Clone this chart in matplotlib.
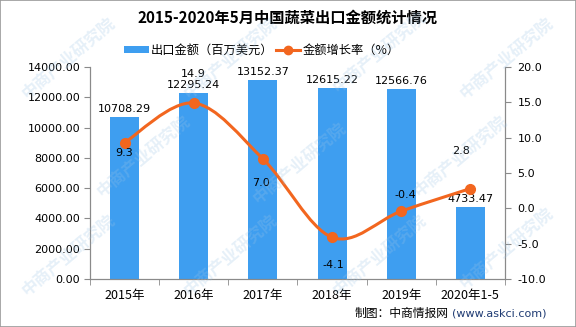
import numpy as np
import matplotlib.pyplot as plt
from matplotlib.path import Path
from matplotlib.patches import PathPatch, Patch, Rectangle
from matplotlib.lines import Line2D

plt.rcParams['font.family'] = ['Noto Sans CJK SC', 'DejaVu Sans']

# 数据
years = ['2015年', '2016年', '2017年', '2018年', '2019年', '2020年1-5']
export_value = [10708.29, 12295.24, 13152.37, 12615.22, 12566.76, 4733.47]
growth_rate = [9.3, 14.9, 7.0, -4.1, -0.4, 2.8]
left_ticks = [0, 2000, 4000, 6000, 8000, 10000, 12000, 14000]
right_ticks = [-10, -5, 0, 5, 10, 15, 20]

bar_color = '#3e9ef0'
line_color = '#f2661f'
axis_color = '#8a8a8a'

fig = plt.figure(figsize=(5.76, 3.27), dpi=100)
fig.patches.append(Rectangle((0, 0), 1, 1, transform=fig.transFigure,
                             fill=False, edgecolor='#9a9a9a', linewidth=1.2))

ax = fig.add_axes([90 / 576, 1 - 279 / 327, 415 / 576, 212 / 327])
x = np.arange(len(years))
ax.bar(x, export_value, width=0.42, color=bar_color, zorder=2)
ax.set_xlim(-0.5, len(years) - 0.5)
ax.set_ylim(0, 14000)
ax.set_yticks(left_ticks)
ax.set_yticklabels([f'{v:.2f}' for v in left_ticks], fontsize=8, family='DejaVu Sans')
ax.set_xticks(x)
ax.set_xticklabels(years, fontsize=9)
ax.tick_params(axis='x', which='major', length=0, pad=7)
ax.set_xticks(np.arange(-0.5, len(years), 1), minor=True)
ax.tick_params(axis='x', which='minor', length=4, color=axis_color)
ax.tick_params(axis='y', length=4, color=axis_color, pad=3)
for s in ['left', 'right', 'bottom']:
    ax.spines[s].set_color(axis_color)
ax.spines['top'].set_visible(False)

for xi, v in zip(x, export_value):
    ax.annotate(f'{v:.2f}', (xi, v), xytext=(0, 3), textcoords='offset pixels',
                ha='center', va='bottom', fontsize=8, family='DejaVu Sans', zorder=5)

# 增长率：平滑曲线（贝塞尔）
ax2 = ax.twinx()
ax2.set_ylim(-10, 20)
ax2.set_yticks(right_ticks)
ax2.set_yticklabels([f'{v:.1f}' for v in right_ticks], fontsize=8, family='DejaVu Sans')
ax2.tick_params(axis='y', length=4, color=axis_color, pad=5)
for s in ['left', 'right', 'bottom']:
    ax2.spines[s].set_color(axis_color)
ax2.spines['top'].set_visible(False)

pts = np.column_stack([x, growth_rate]).astype(float)
verts = [tuple(pts[0])]
codes = [Path.MOVETO]
k = 0.5 / 3
for i in range(len(pts) - 1):
    p0 = pts[max(i - 1, 0)]
    p1 = pts[i]
    p2 = pts[i + 1]
    p3 = pts[min(i + 2, len(pts) - 1)]
    c1 = p1 + (p2 - p0) * k
    c2 = p2 - (p3 - p1) * k
    verts += [tuple(c1), tuple(c2), tuple(p2)]
    codes += [Path.CURVE4] * 3
ax2.add_patch(PathPatch(Path(verts, codes), fill=False, edgecolor=line_color,
                        linewidth=2.2, zorder=3))
ax2.plot(x, growth_rate, 'o', color=line_color, markersize=7, zorder=4)

label_offsets = [(0, -10), (0, 29), (-2, -24), (1, -28), (4, 16), (-9, 38)]
for xi, v, off in zip(x, growth_rate, label_offsets):
    ax2.annotate(f'{v:.1f}', (xi, v), xytext=off, textcoords='offset pixels',
                 ha='center', va='center', fontsize=8, family='DejaVu Sans', zorder=5)

fig.text(0.5, 1 - 18 / 327, '2015-2020年5月中国蔬菜出口金额统计情况',
         ha='center', va='center', fontsize=11, fontweight='bold')

handles = [Patch(facecolor=bar_color, edgecolor='none'),
           Line2D([], [], color=line_color, linewidth=2.2, marker='o', markersize=6)]
fig.legend(handles, ['出口金额（百万美元）', '金额增长率（%）'], loc='center',
           bbox_to_anchor=(262 / 576, 1 - 50 / 327), ncol=2, frameon=False, fontsize=8.8,
           handlelength=2.0, handleheight=0.5, columnspacing=0.2, handletextpad=0.2)

fig.text(355 / 576, 1 - 313 / 327, '制图：中商情报网', ha='left', va='center', fontsize=8.5)
fig.text(452 / 576, 1 - 313 / 327, '(www.askci.com)', ha='left', va='center',
         fontsize=8, color='#1f3b73', family='DejaVu Sans')

# 水印
for wx, wy in [(0.12, 0.82), (0.4, 0.82), (0.66, 0.84), (0.88, 0.82),
               (0.25, 0.52), (0.52, 0.5), (0.8, 0.52),
               (0.12, 0.22), (0.4, 0.22), (0.66, 0.22), (0.88, 0.24)]:
    fig.text(wx, wy, '中商产业研究院', rotation=40, ha='center', va='center',
             fontsize=12, color='#9cc4e6', alpha=0.25, fontweight='bold', zorder=10)

fig.savefig('out.png', dpi=100)
